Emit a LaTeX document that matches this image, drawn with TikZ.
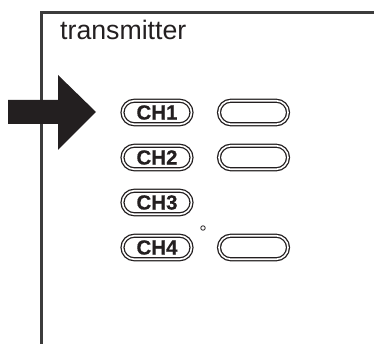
\documentclass[tikz,border=0pt]{standalone}
\usepackage{fontspec}
\setmainfont{Liberation Sans}
\newfontfamily\heavyfont[FakeBold=0.6]{Liberation Sans Bold}
\usetikzlibrary{shapes.misc}
\definecolor{ink}{HTML}{231F20}
\definecolor{frame}{HTML}{3C3C3C}
\tikzset{
  x=1pt,y=-1pt,
  pill/.style={rounded rectangle,draw=ink,double=white,line width=1.3pt,double distance=1.6pt,
    minimum width=69pt,minimum height=23.5pt,inner sep=0pt,font=\fontsize{20.5}{20}\selectfont\heavyfont,text=ink},
  framestroke/.style={draw=frame,line width=3pt},
}
\begin{document}
\begin{tikzpicture}
\useasboundingbox (0,0) rectangle (374,344);
\draw[framestroke] (374,13) -- (41,13) -- (41,344);
\node[anchor=base west,inner sep=0pt,font=\fontsize{26.7}{27}\selectfont,text=ink] (title) at (60,40) {transmitter};
\fill[ink] (8,100) -- (58,100) -- (58,75) -- (96,112) -- (58,150) -- (58,124) -- (8,124) -- cycle;
\node[pill] (ch1) at (157,112.5) {CH1};
\node[pill] (ch2) at (157,157.5) {CH2};
\node[pill] (ch3) at (157,202.5) {CH3};
\node[pill] (ch4) at (157,247.5) {CH4};
\node[pill] (r1) at (253.5,112.5) {};
\node[pill] (r2) at (253.5,157.5) {};
\node[pill] (r4) at (253.5,247.5) {};
\node[circle,draw=ink,line width=0.8pt,minimum size=4.5pt,inner sep=0pt] (dot) at (203,228) {};
\end{tikzpicture}
\end{document}
